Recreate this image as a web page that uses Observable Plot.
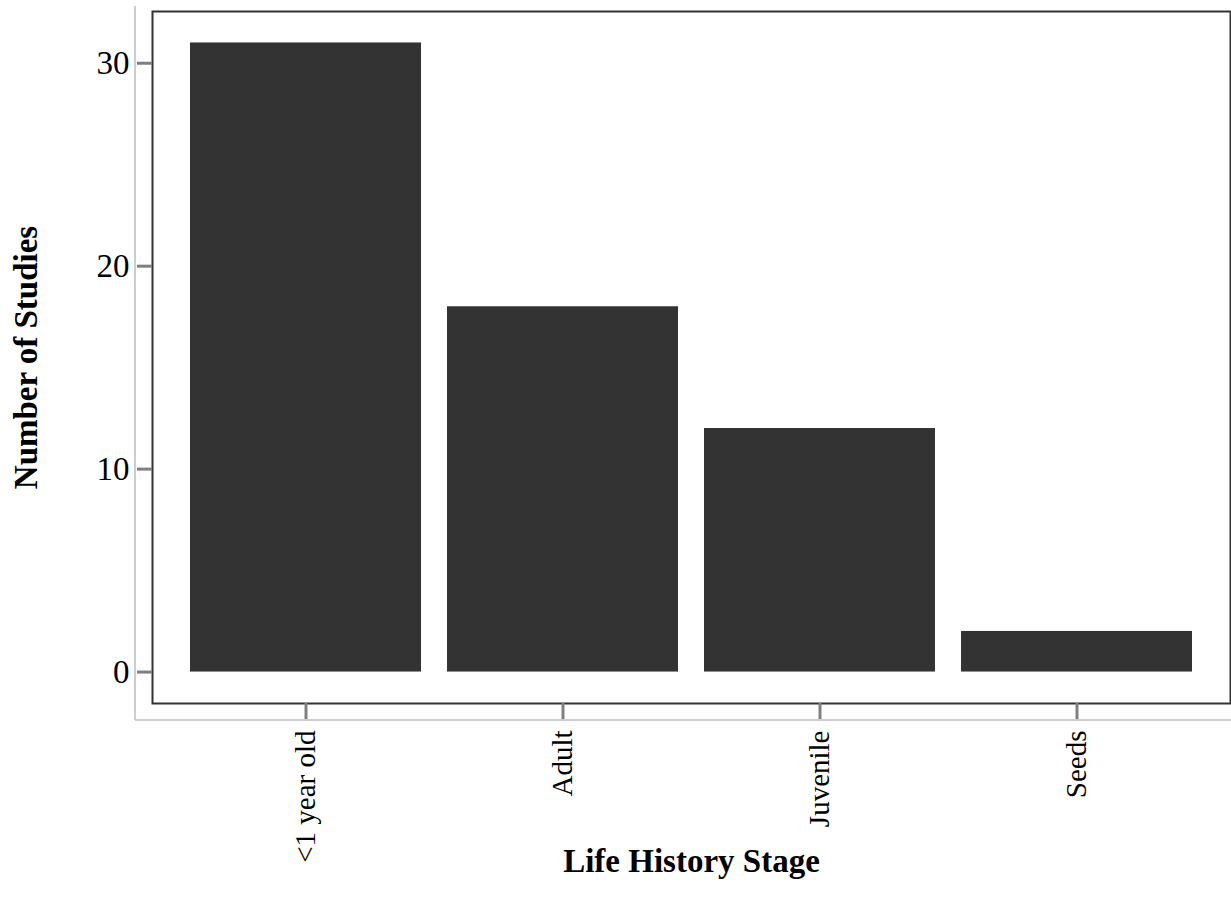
<!DOCTYPE html>
<html>
<head>
<meta charset="utf-8">
<script src="https://cdn.jsdelivr.net/npm/d3@7"></script>
<script src="https://cdn.jsdelivr.net/npm/@observablehq/plot@0.6"></script>
<style>
  html, body { margin: 0; padding: 0; background: #fff; }
  #chart svg { display: block; }
  #chart svg, #chart svg text { font-family: "Liberation Serif", "Times New Roman", serif !important; }
</style>
</head>
<body>
<div id="chart"></div>
<script>
const stages = ["<1 year old", "Adult", "Juvenile", "Seeds"];
const counts = [31, 18, 12, 2];
const yTicks = [0, 10, 20, 30];
const xTitle = "Life History Stage";
const yTitle = "Number of Studies";

const data = stages.map((s, i) => ({stage: s, count: counts[i]}));

const W = 1231, H = 909;
const mL = 152, mR = 1, mT = 11, mB = 206;
const font = "Liberation Serif";
const maxV = d3.max(counts);
const pad = maxV * 0.05;

const chart = Plot.plot({
  width: W,
  height: H,
  marginLeft: mL,
  marginRight: mR,
  marginTop: mT,
  marginBottom: mB,
  style: {fontFamily: font, color: "#000", background: "#fff", overflow: "visible"},
  x: {domain: stages, paddingInner: 0.1, paddingOuter: 0.145, label: null},
  y: {domain: [-pad, maxV + pad], label: null},
  marks: [
    Plot.barY(data, {x: "stage", y1: 0, y2: "count", fill: "#333333"}),
    Plot.frame({stroke: "#333333", strokeWidth: 2}),
    Plot.axisY(yTicks, {tickSize: 15, tickPadding: 8, stroke: "#7f7f7f", strokeWidth: 3, fill: "#000", fontSize: 33, fontFamily: font, label: null}),
    Plot.axisX({tickSize: 16, tickPadding: 11, tickRotate: -90, stroke: "#7f7f7f", strokeWidth: 3, fill: "#000", fontSize: 29, fontFamily: font, label: null}),
    Plot.text([yTitle], {frameAnchor: "left", dx: -126, rotate: -90, textAnchor: "middle", fontSize: 33, fontWeight: "bold", fontFamily: font, fill: "#000", text: d => d}),
    Plot.text([xTitle], {frameAnchor: "bottom", dy: 168, textAnchor: "middle", fontSize: 33, fontWeight: "bold", fontFamily: font, fill: "#000", text: d => d})
  ]
});

// light grey outer axis lines (decoration)
const svg = d3.select(chart);
svg.append("line").attr("x1", 135).attr("x2", 135).attr("y1", mT - 5).attr("y2", H - mB + 17)
  .attr("stroke", "#bdbdbd").attr("stroke-width", 1.5);
svg.append("line").attr("x1", 135).attr("x2", W).attr("y1", H - mB + 17).attr("y2", H - mB + 17)
  .attr("stroke", "#bdbdbd").attr("stroke-width", 1.5);

document.getElementById("chart").appendChild(chart);
</script>
</body>
</html>
